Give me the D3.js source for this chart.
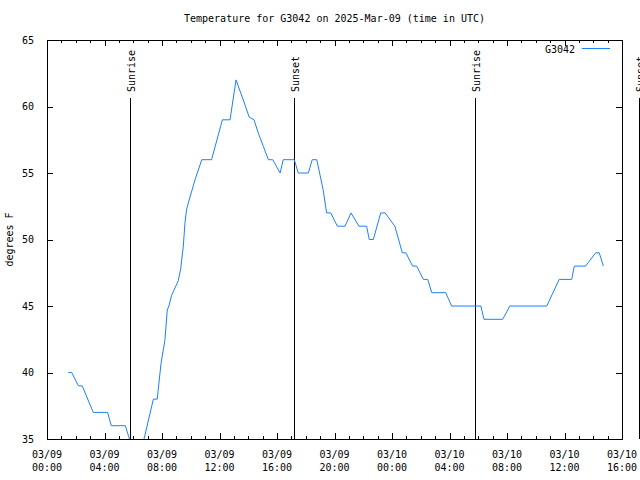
<!DOCTYPE html>
<html>
<head>
<meta charset="utf-8">
<script src="https://cdn.jsdelivr.net/npm/d3@7"></script>
<style>
  body { margin: 0; background: #fff; }
  text { font-family: "DejaVu Sans Mono", "Liberation Mono", monospace; font-size: 10px; fill: #000; }
</style>
</head>
<body>
<svg id="chart"></svg>
<script>
// readings for G3042 (UTC)
const times = [
  "2025-03-09 01:29", "2025-03-09 01:43", "2025-03-09 02:11", "2025-03-09 02:27",
  "2025-03-09 03:13", "2025-03-09 04:13", "2025-03-09 04:28", "2025-03-09 05:27",
  "2025-03-09 05:44", "2025-03-09 06:00", "2025-03-09 06:30", "2025-03-09 06:45",
  "2025-03-09 07:24", "2025-03-09 07:40", "2025-03-09 07:56", "2025-03-09 08:12",
  "2025-03-09 08:22", "2025-03-09 08:29", "2025-03-09 08:40", "2025-03-09 09:08",
  "2025-03-09 09:18", "2025-03-09 09:29", "2025-03-09 09:36", "2025-03-09 09:43",
  "2025-03-09 09:57", "2025-03-09 10:18", "2025-03-09 10:46", "2025-03-09 11:27",
  "2025-03-09 12:12", "2025-03-09 12:44", "2025-03-09 13:09", "2025-03-09 13:39",
  "2025-03-09 14:04", "2025-03-09 14:24", "2025-03-09 14:42", "2025-03-09 15:03",
  "2025-03-09 15:24", "2025-03-09 15:42", "2025-03-09 16:13", "2025-03-09 16:26",
  "2025-03-09 17:12", "2025-03-09 17:29", "2025-03-09 18:11", "2025-03-09 18:27",
  "2025-03-09 18:46", "2025-03-09 19:13", "2025-03-09 19:27", "2025-03-09 19:44",
  "2025-03-09 20:12", "2025-03-09 20:44", "2025-03-09 21:09", "2025-03-09 21:42",
  "2025-03-09 22:14", "2025-03-09 22:25", "2025-03-09 22:42", "2025-03-09 23:13",
  "2025-03-09 23:31", "2025-03-10 00:12", "2025-03-10 00:43", "2025-03-10 00:58",
  "2025-03-10 01:26", "2025-03-10 01:43", "2025-03-10 02:11", "2025-03-10 02:29",
  "2025-03-10 02:46", "2025-03-10 03:44", "2025-03-10 04:09", "2025-03-10 06:11",
  "2025-03-10 06:24", "2025-03-10 07:42", "2025-03-10 08:12", "2025-03-10 10:46",
  "2025-03-10 11:38", "2025-03-10 12:30", "2025-03-10 12:41", "2025-03-10 13:28",
  "2025-03-10 14:10", "2025-03-10 14:25", "2025-03-10 14:42"
];
const temps = [
  40, 40, 39, 39,
  37, 37, 36, 36,
  35, 34, 34, 35,
  38, 38, 40.7, 42.4,
  44.7, 45, 45.8, 46.9,
  47.8, 49.5, 51.3, 52.3,
  53.2, 54.5, 56, 56,
  59, 59, 62, 60.5,
  59.2, 59, 58, 57,
  56, 56, 55, 56,
  56, 55, 55, 56,
  56, 53.7, 52, 52,
  51, 51, 52, 51,
  51, 50, 50, 52,
  52, 51, 49, 49,
  48, 48, 47, 47,
  46, 46, 45, 45,
  44, 44, 45, 45,
  47, 47, 48, 48,
  49, 49, 48
];

// sunrise / sunset markers
const sunTimes = ["2025-03-09 05:46", "2025-03-09 17:11", "2025-03-10 05:46", "2025-03-10 17:11"];
const sunLabels = ["Sunrise", "Sunset", "Sunrise", "Sunset"];

// axis ticks
const yTicks = [35, 40, 45, 50, 55, 60, 65];
const xTicks = [
  "2025-03-09 00:00", "2025-03-09 04:00", "2025-03-09 08:00", "2025-03-09 12:00",
  "2025-03-09 16:00", "2025-03-09 20:00", "2025-03-10 00:00", "2025-03-10 04:00",
  "2025-03-10 08:00", "2025-03-10 12:00", "2025-03-10 16:00"
];

const width = 640, height = 480;
const margin = { top: 40, right: 18, bottom: 41, left: 47 };
const lineColor = "#1a80ff";

const parse = d3.utcParse("%Y-%m-%d %H:%M");
const data = times.map((t, i) => ({ time: parse(t), temp: temps[i] }));

const svg = d3.select("#chart")
  .attr("width", width)
  .attr("height", height);

// scales
const x = d3.scaleUtc()
  .domain([parse(xTicks[0]), parse(xTicks[xTicks.length - 1])])
  .range([margin.left, width - margin.right]);

const y = d3.scaleLinear()
  .domain([35, 65])
  .range([height - margin.bottom, margin.top]);

// clip the series to the plot box
svg.append("clipPath").attr("id", "plot-clip")
  .append("rect")
    .attr("x", margin.left)
    .attr("y", margin.top)
    .attr("width", width - margin.left - margin.right)
    .attr("height", height - margin.top - margin.bottom);

// title
svg.append("text")
  .attr("x", (margin.left + width - margin.right) / 2)
  .attr("y", 22)
  .attr("text-anchor", "middle")
  .text("Temperature for G3042 on 2025-Mar-09 (time in UTC)");

// y axis label
svg.append("text")
  .attr("transform", `translate(13, ${(margin.top + height - margin.bottom) / 2}) rotate(-90)`)
  .attr("text-anchor", "middle")
  .text("degrees F");

// hourly minor ticks, 4-hour major ticks
const minor = d3.utcHour.range(x.domain()[0], x.domain()[1]);
const majorTimes = xTicks.map(parse);

// bottom axis
const xAxisBottom = svg.append("g")
  .attr("transform", `translate(0, ${height - margin.bottom})`)
  .call(d3.axisBottom(x).tickValues(minor).tickSize(-3).tickFormat(""));
const xAxisBottomMajor = svg.append("g")
  .attr("transform", `translate(0, ${height - margin.bottom})`)
  .call(d3.axisBottom(x).tickValues(majorTimes).tickSize(-6).tickFormat(""));

// top mirror ticks
svg.append("g")
  .attr("transform", `translate(0, ${margin.top})`)
  .call(d3.axisTop(x).tickValues(minor).tickSize(-3).tickFormat(""));
svg.append("g")
  .attr("transform", `translate(0, ${margin.top})`)
  .call(d3.axisTop(x).tickValues(majorTimes).tickSize(-6).tickFormat(""));

// left and right ticks
svg.append("g")
  .attr("transform", `translate(${margin.left}, 0)`)
  .call(d3.axisLeft(y).tickValues(yTicks).tickSize(-6).tickPadding(13));
svg.append("g")
  .attr("transform", `translate(${width - margin.right}, 0)`)
  .call(d3.axisRight(y).tickValues(yTicks).tickSize(-6).tickFormat(""));

svg.selectAll(".domain").remove();
svg.selectAll(".tick line").attr("stroke", "#000").attr("shape-rendering", "crispEdges");
svg.selectAll(".tick text").style("font-size", "10px").attr("fill", "#000");

// two-line date labels under the x axis
const fmtDay = d3.utcFormat("%m/%d"), fmtHour = d3.utcFormat("%H:%M");
const xLabels = svg.append("g");
majorTimes.forEach(t => {
  const lbl = xLabels.append("text")
    .attr("x", x(t))
    .attr("y", 458)
    .attr("text-anchor", "middle");
  lbl.append("tspan").attr("x", x(t)).text(fmtDay(t));
  lbl.append("tspan").attr("x", x(t)).attr("dy", 13).text(fmtHour(t));
});

// plot border
svg.append("rect")
  .attr("x", margin.left)
  .attr("y", margin.top)
  .attr("width", width - margin.left - margin.right)
  .attr("height", height - margin.top - margin.bottom)
  .attr("fill", "none")
  .attr("stroke", "#000")
  .attr("shape-rendering", "crispEdges");

// sunrise / sunset lines
sunTimes.forEach((s, i) => {
  const sx = Math.round(x(parse(s)));
  svg.append("line")
    .attr("x1", sx).attr("x2", sx)
    .attr("y1", 98).attr("y2", height - margin.bottom)
    .attr("stroke", "#000")
    .attr("shape-rendering", "crispEdges");
  svg.append("text")
    .attr("transform", `translate(${sx + 5}, 92) rotate(-90)`)
    .attr("text-anchor", "start")
    .text(sunLabels[i]);
});

// temperature line
const line = d3.line()
  .x(d => x(d.time))
  .y(d => y(d.temp));

svg.append("path")
  .datum(data)
  .attr("clip-path", "url(#plot-clip)")
  .attr("fill", "none")
  .attr("stroke", lineColor)
  .attr("stroke-width", 1)
  .attr("d", line);

// legend
svg.append("text")
  .attr("x", 575)
  .attr("y", 53)
  .attr("text-anchor", "end")
  .text("G3042");
svg.append("line")
  .attr("x1", 582).attr("x2", 610)
  .attr("y1", 48.5).attr("y2", 48.5)
  .attr("stroke", lineColor)
  .attr("shape-rendering", "crispEdges");
</script>
</body>
</html>
